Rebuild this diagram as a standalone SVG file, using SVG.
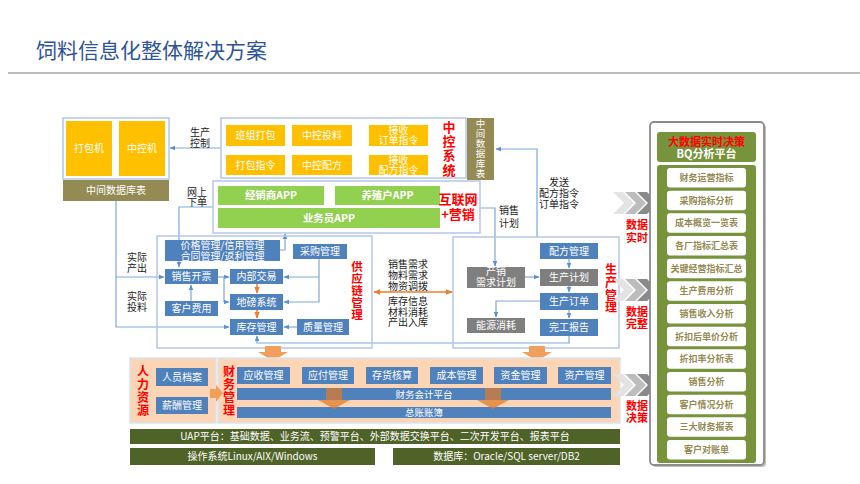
<svg xmlns="http://www.w3.org/2000/svg" width="860" height="484" viewBox="0 0 860 484">
<defs>
<style>
text{font-family:"Noto Sans CJK SC","Liberation Sans",sans-serif;}
.t{font-size:10px;fill:#fff;text-anchor:middle;}
.tb{font-size:10.5px;fill:#fff;text-anchor:middle;font-weight:bold;}
.lab{font-size:10px;fill:#222;text-anchor:middle;}
.red{font-size:13px;fill:#FF0000;text-anchor:middle;font-weight:bold;}
.vr{fill:#FF0000;text-anchor:middle;font-weight:bold;writing-mode:vertical-rl;}
.redv{font-size:11px;fill:#FF0000;text-anchor:middle;font-weight:bold;}
.cont{fill:#fff;stroke:#B4C7E7;stroke-width:1.5;}
.peach{fill:#FBD5B5;stroke:#D9E3F0;stroke-width:1.5;}
.yel{fill:#FFC000;}
.grn{fill:#92D050;}
.blu{fill:#4F81BD;}
.gry{fill:#7F7F7F;}
.olv{fill:#948A54;}
.dk{fill:#4F6228;}
.item{fill:#fff;}
.it{font-size:9px;fill:#948A54;text-anchor:middle;font-weight:bold;}
.c{fill:none;stroke:#7FA7D9;stroke-width:1.2;}
.co{fill:none;stroke:#ED7D31;stroke-width:1.5;}
.bo{fill:#F0A05A;}
</style>
<marker id="ab" viewBox="0 0 10 10" refX="9" refY="5" markerUnits="userSpaceOnUse" markerWidth="6" markerHeight="6" orient="auto"><path d="M0,1 L10,5 L0,9 z" fill="#5B8FD0"/></marker>
<marker id="ao" viewBox="0 0 10 10" refX="9" refY="5" markerUnits="userSpaceOnUse" markerWidth="7" markerHeight="7" orient="auto-start-reverse"><path d="M0,1 L10,5 L0,9 z" fill="#ED7D31"/></marker>
<g id="chev">
<polygon points="0,0 10,0 21,11 10,22 0,22 11,11" fill="#E3E3E3"/>
<polygon points="12,0 22,0 33,11 22,22 12,22 23,11" fill="#BDBDBD"/>
<polygon points="24,0 34,0 45,11 34,22 24,22 35,11" fill="#8A8A8A"/>
</g>
</defs>
<rect width="860" height="484" fill="#fff"/>
<text x="36" y="58" style="font-size:21px;fill:#2F5597;">饲料信息化整体解决方案</text>
<line x1="8" y1="73" x2="860" y2="73" stroke="#A6A6A6" stroke-width="1.5"/>

<g id="connectors">
<path class="c" d="M221,148 H170" marker-end="url(#ab)"/>
<path class="c" d="M537,237 V149 H496" marker-end="url(#ab)"/>
<path class="c" d="M213,207 H179 V267" marker-end="url(#ab)"/>
<path class="c" d="M116,201 V327 H229" marker-end="url(#ab)"/>
<path class="c" d="M116,277 H164" marker-end="url(#ab)"/>
<path class="c" d="M280,250 H285 V234" marker-end="url(#ab)"/>
<path class="c" d="M218,277 H229" marker-end="url(#ab)"/>
<path class="c" d="M224,277 V302 H229" marker-end="url(#ab)"/>
<path class="c" d="M319,258 V302 H284" marker-end="url(#ab)"/>
<path class="c" d="M319,277 H284" marker-end="url(#ab)"/>
<path class="c" d="M191,301 V285" marker-end="url(#ab)"/>
<path class="c" d="M297,327 H284" marker-end="url(#ab)"/>
<path class="c" d="M569,336 V343 H257 V336" marker-end="url(#ab)"/>
<path class="c" d="M368,135 H353" marker-end="url(#ab)"/>
<path class="c" d="M368,165 H353" marker-end="url(#ab)"/>
<path class="c" d="M480,208 H495 V266" marker-end="url(#ab)"/>
<path class="c" d="M525,277 H539" marker-end="url(#ab)"/>
<path class="c" d="M569,259 V268" marker-end="url(#ab)"/>
<path class="c" d="M569,286 V292" marker-end="url(#ab)"/>
<path class="c" d="M569,310 V318" marker-end="url(#ab)"/>
<path class="c" d="M540,301 H496 V317" marker-end="url(#ab)"/>
<path class="co" d="M257,284 V293" marker-end="url(#ao)"/>
<path class="co" d="M257,310 V318" marker-end="url(#ao)"/>
<path class="co" d="M256,155 V147" marker-end="url(#ao)"/>
<path class="co" d="M322,155 V147" marker-end="url(#ao)"/>
<path class="co" d="M374,292 H452" marker-start="url(#ao)" marker-end="url(#ao)"/>
</g>

<g id="labels">
<text class="lab" x="200" y="136">生产<tspan x="200" dy="10.5">控制</tspan></text>
<text class="lab" x="197" y="195.5">网上<tspan x="197" dy="10.5">下单</tspan></text>
<text class="lab" x="137" y="261">实际<tspan x="137" dy="10.5">产出</tspan></text>
<text class="lab" x="137" y="300">实际<tspan x="137" dy="10.5">投料</tspan></text>
<text class="lab" x="559" y="186">发送<tspan x="559" dy="11">配方指令</tspan><tspan x="559" dy="11">订单指令</tspan></text>
<text class="lab" x="509" y="214">销售<tspan x="509" dy="12.5">计划</tspan></text>
<text class="lab" x="408" y="268">销售需求<tspan x="408" dy="11">物料需求</tspan><tspan x="408" dy="11">物资调拨</tspan></text>
<text class="lab" x="408" y="305">库存信息<tspan x="408" dy="10.5">材料消耗</tspan><tspan x="408" dy="10.5">产出入库</tspan></text>
</g>

<g id="machines">
<rect class="cont" x="63" y="118" width="106" height="61"/>
<rect class="yel" x="66" y="121" width="46" height="55"/>
<text class="t" x="89" y="152">打包机</text>
<rect class="yel" x="119" y="121" width="46" height="55"/>
<text class="t" x="142" y="152">中控机</text>
</g>
<g id="middb-left">
<rect class="olv" x="63" y="180" width="106" height="21"/>
<text class="t" x="116" y="194">中间数据库表</text>
</g>

<g id="zhongkong">
<rect class="cont" x="221" y="118" width="245" height="60"/>
<rect class="yel" x="226" y="125" width="59" height="21"/><text class="t" x="255.5" y="139">班组打包</text>
<rect class="yel" x="292" y="125" width="60" height="21"/><text class="t" x="322" y="139">中控投料</text>
<rect class="yel" x="369" y="125" width="59" height="21"/><text class="t" x="398.5" y="134">接收<tspan x="398.5" dy="10">订单指令</tspan></text>
<rect class="yel" x="226" y="155" width="59" height="20"/><text class="t" x="255.5" y="169">打包指令</text>
<rect class="yel" x="292" y="155" width="60" height="20"/><text class="t" x="322" y="169">中控配方</text>
<rect class="yel" x="369" y="155" width="59" height="20"/><text class="t" x="398.5" y="164">接收<tspan x="398.5" dy="10">配方指令</tspan></text>
<text class="vr" x="449" y="149" style="font-size:13px;letter-spacing:1.3px">中控系统</text>
</g>
<g id="middb-right">
<rect class="olv" x="467" y="118" width="27" height="62"/>
<text x="480.5" y="149" style="font-size:9.5px;fill:#fff;text-anchor:middle;writing-mode:vertical-rl;letter-spacing:0.5px">中间数据库表</text>
</g>

<g id="internet">
<rect class="cont" x="213" y="181" width="267" height="52"/>
<rect class="grn" x="218" y="186" width="106" height="19"/><text class="tb" x="271" y="199">经销商APP</text>
<rect class="grn" x="335" y="186" width="105" height="19"/><text class="tb" x="387.5" y="199">养殖户APP</text>
<rect class="grn" x="218" y="208" width="222" height="20"/><text class="tb" x="329" y="222">业务员APP</text>
<text class="red" x="458" y="204">互联网<tspan x="458" dy="15">+营销</tspan></text>
</g>

<g id="supply">
<rect class="cont" x="157" y="236" width="215" height="112" style="fill:none"/>
<rect class="blu" x="165" y="240" width="115" height="21"/><text class="t" x="222.5" y="249">价格管理/信用管理<tspan x="222.5" dy="10.5">合同管理/返利管理</tspan></text>
<rect class="blu" x="293" y="244" width="54" height="15"/><text class="t" x="320" y="255">采购管理</text>
<rect class="blu" x="165" y="269" width="53" height="15"/><text class="t" x="191.5" y="280">销售开票</text>
<rect class="blu" x="230" y="269" width="53" height="15"/><text class="t" x="256.5" y="280">内部交易</text>
<rect class="blu" x="230" y="294" width="53" height="16"/><text class="t" x="256.5" y="305.5">地磅系统</text>
<rect class="blu" x="165" y="301" width="53" height="15"/><text class="t" x="191.5" y="312">客户费用</text>
<rect class="blu" x="230" y="319" width="53" height="16"/><text class="t" x="256.5" y="330.5">库存管理</text>
<rect class="blu" x="297" y="319" width="52" height="16"/><text class="t" x="323" y="330.5">质量管理</text>
<text class="vr" x="357" y="291" style="font-size:11.5px;letter-spacing:0.6px">供应链管理</text>
</g>

<g id="production">
<rect class="cont" x="453" y="237" width="166" height="111" style="fill:none"/>
<rect class="blu" x="540" y="243" width="58" height="16"/><text class="t" x="569" y="254.5">配方管理</text>
<rect class="gry" x="467" y="267" width="58" height="21"/><text class="t" x="496" y="275">产销<tspan x="496" dy="10.5">需求计划</tspan></text>
<rect class="gry" x="540" y="269" width="58" height="17"/><text class="t" x="569" y="281">生产计划</text>
<rect class="blu" x="540" y="293" width="58" height="17"/><text class="t" x="569" y="305">生产订单</text>
<rect class="gry" x="467" y="318" width="58" height="15"/><text class="t" x="496" y="329">能源消耗</text>
<rect class="blu" x="540" y="319" width="58" height="17"/><text class="t" x="569" y="331">完工报告</text>
<text class="vr" x="611" y="289" style="font-size:12px;letter-spacing:0.8px">生产管理</text>
</g>

<g id="down-arrows">
<polygon class="bo" points="265,346 281,346 281,352 288,352 273,361 258,352 265,352"/>
<polygon class="bo" points="529,346 545,346 545,352 552,352 537,361 522,352 529,352"/>
</g>

<g id="hr">
<rect class="peach" x="130" y="358" width="86" height="65"/>
<text class="vr" x="143" y="391" style="font-size:12px;letter-spacing:1px">人力资源</text>
<rect class="blu" x="156" y="368" width="52" height="18"/><text class="t" x="182" y="380.5">人员档案</text>
<rect class="blu" x="156" y="397" width="52" height="17"/><text class="t" x="182" y="409">薪酬管理</text>
</g>

<g id="finance">
<rect class="peach" x="218" y="358" width="402" height="65"/>
<text class="vr" x="229" y="391" style="font-size:12px;letter-spacing:1px">财务管理</text>
<rect class="blu" x="237" y="367" width="53" height="17"/><text class="t" x="263.5" y="379">应收管理</text>
<rect class="blu" x="302" y="367" width="52" height="17"/><text class="t" x="328" y="379">应付管理</text>
<rect class="blu" x="366" y="367" width="52" height="17"/><text class="t" x="392" y="379">存货核算</text>
<rect class="blu" x="430" y="367" width="53" height="17"/><text class="t" x="456.5" y="379">成本管理</text>
<rect class="blu" x="494" y="367" width="53" height="17"/><text class="t" x="520.5" y="379">资金管理</text>
<rect class="blu" x="558" y="367" width="53" height="17"/><text class="t" x="584.5" y="379">资产管理</text>
<rect class="blu" x="237" y="388" width="374" height="12"/><text class="t" x="424" y="397.5" style="font-size:9.5px">财务会计平台</text>
<rect class="blu" x="237" y="407" width="374" height="11"/><text class="t" x="424" y="416" style="font-size:9.5px">总账账簿</text>
<polygon points="326,388 342,388 342,400 350,400 334,409 318,400 326,400" fill="#DF7A2A" opacity="0.72"/>
<polygon points="485,388 501,388 501,400 509,400 493,409 477,400 485,400" fill="#DF7A2A" opacity="0.72"/>
</g>
<polygon class="bo" points="210,389 216,389 216,385 223,393 216,402 216,398 210,398"/>

<g id="platform">
<rect class="dk" x="130" y="429" width="490" height="15"/>
<text class="t" x="375" y="440">UAP平台：基础数据、业务流、预警平台、外部数据交换平台、二次开发平台、报表平台</text>
<rect class="dk" x="130" y="448" width="245" height="17"/>
<text class="t" x="252.5" y="460">操作系统Linux/AIX/Windows</text>
<rect class="dk" x="393" y="448" width="227" height="17"/>
<text class="t" x="506.5" y="460">数据库：Oracle/SQL server/DB2</text>
</g>

<g id="chevrons">
<use href="#chev" x="613" y="192"/>
<use href="#chev" x="613" y="279"/>
<use href="#chev" x="613" y="374"/>
<text class="redv" x="637" y="229">数据<tspan x="637" dy="12.5">实时</tspan></text>
<text class="redv" x="637" y="316">数据<tspan x="637" dy="12">完整</tspan></text>
<text class="redv" x="637" y="410">数据<tspan x="637" dy="12">决策</tspan></text>
</g>

<g id="bq-panel">
<rect x="652" y="124" width="114" height="343" rx="4" fill="#BFBFBF"/>
<rect x="650" y="122" width="114" height="343" rx="4" fill="#fff" stroke="#8C8C8C" stroke-width="1.8"/>
<rect x="657" y="132" width="99" height="30" rx="3" fill="#77933C"/>
<text x="706.5" y="146" style="font-size:11px;fill:#FF0000;font-weight:bold;text-anchor:middle;">大数据实时决策<tspan x="706.5" dy="12" style="fill:#fff">BQ分析平台</tspan></text>
<rect x="657" y="165" width="99" height="298" rx="3" fill="#77933C"/>
<rect class="item" x="667" y="168" width="79" height="19.5" rx="3"/><text class="it" x="706.5" y="181">财务运营指标</text>
<rect class="item" x="667" y="190.7" width="79" height="19.5" rx="3"/><text class="it" x="706.5" y="203.7">采购指标分析</text>
<rect class="item" x="667" y="213.3" width="79" height="19.5" rx="3"/><text class="it" x="706.5" y="226.3">成本概览一览表</text>
<rect class="item" x="667" y="236" width="79" height="19.5" rx="3"/><text class="it" x="706.5" y="249">各厂指标汇总表</text>
<rect class="item" x="667" y="258.7" width="79" height="19.5" rx="3"/><text class="it" x="706.5" y="271.7">关键经营指标汇总</text>
<rect class="item" x="667" y="281.3" width="79" height="19.5" rx="3"/><text class="it" x="706.5" y="294.3">生产费用分析</text>
<rect class="item" x="667" y="304" width="79" height="19.5" rx="3"/><text class="it" x="706.5" y="317">销售收入分析</text>
<rect class="item" x="667" y="326.7" width="79" height="19.5" rx="3"/><text class="it" x="706.5" y="339.7">折扣后单价分析</text>
<rect class="item" x="667" y="349.3" width="79" height="19.5" rx="3"/><text class="it" x="706.5" y="362.3">折扣率分析表</text>
<rect class="item" x="667" y="372" width="79" height="19.5" rx="3"/><text class="it" x="706.5" y="385">销售分析</text>
<rect class="item" x="667" y="394.7" width="79" height="19.5" rx="3"/><text class="it" x="706.5" y="407.7">客户情况分析</text>
<rect class="item" x="667" y="417.3" width="79" height="19.5" rx="3"/><text class="it" x="706.5" y="430.3">三大财务报表</text>
<rect class="item" x="667" y="440" width="79" height="19.5" rx="3"/><text class="it" x="706.5" y="453">客户对账单</text>
</g>
</svg>
